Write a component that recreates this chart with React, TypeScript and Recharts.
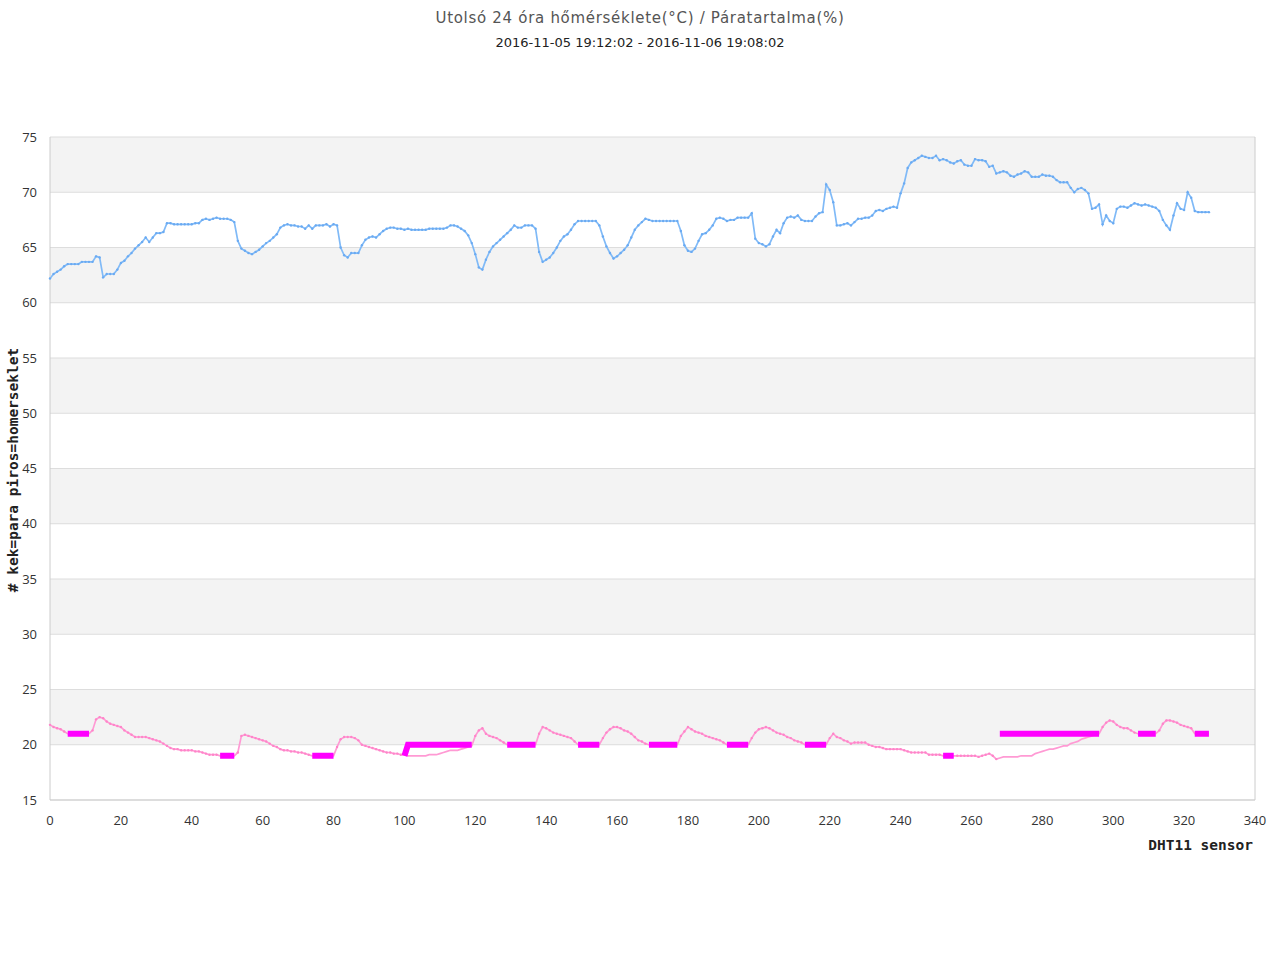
import React from 'react';
import { LineChart, Line, XAxis, YAxis, CartesianGrid, ReferenceLine } from 'recharts';

const _ = null;

// Humidity (blue, "kek=para")
const humidity = [
  62.2, 62.6, 62.8, 63.0, 63.3, 63.5, 63.5, 63.5, 63.5, 63.7,
  63.7, 63.7, 63.7, 64.2, 64.1, 62.3, 62.6, 62.6, 62.6, 63.0,
  63.6, 63.8, 64.2, 64.5, 64.9, 65.2, 65.5, 65.9, 65.5, 65.9,
  66.3, 66.3, 66.4, 67.2, 67.2, 67.1, 67.1, 67.1, 67.1, 67.1,
  67.1, 67.2, 67.2, 67.5, 67.6, 67.5, 67.6, 67.7, 67.6, 67.6,
  67.6, 67.5, 67.3, 65.6, 64.9, 64.7, 64.5, 64.4, 64.6, 64.8,
  65.1, 65.4, 65.6, 65.9, 66.2, 66.8, 67.0, 67.1, 67.0, 67.0,
  66.9, 66.9, 66.7, 67.0, 66.7, 67.0, 67.0, 67.0, 67.1, 66.9,
  67.1, 67.0, 65.0, 64.3, 64.1, 64.5, 64.5, 64.5, 65.2, 65.7,
  65.9, 66.0, 65.9, 66.2, 66.5, 66.7, 66.8, 66.8, 66.7, 66.7,
  66.6, 66.7, 66.6, 66.6, 66.6, 66.6, 66.6, 66.7, 66.7, 66.7,
  66.7, 66.7, 66.8, 67.0, 67.0, 66.9, 66.7, 66.5, 66.1, 65.4,
  64.4, 63.2, 63.0, 63.9, 64.6, 65.1, 65.4, 65.7, 66.0, 66.3,
  66.6, 67.0, 66.8, 66.8, 67.0, 67.0, 67.0, 66.7, 64.6, 63.7,
  63.9, 64.1, 64.5, 65.0, 65.6, 66.0, 66.2, 66.6, 67.1, 67.4,
  67.4, 67.4, 67.4, 67.4, 67.4, 67.0, 66.0, 65.1, 64.5, 64.0,
  64.2, 64.5, 64.8, 65.2, 65.9, 66.6, 67.0, 67.3, 67.6, 67.5,
  67.4, 67.4, 67.4, 67.4, 67.4, 67.4, 67.4, 67.4, 66.5, 65.2,
  64.7, 64.6, 64.9, 65.6, 66.2, 66.3, 66.6, 67.0, 67.6, 67.7,
  67.6, 67.4, 67.5, 67.5, 67.7, 67.7, 67.7, 67.7, 68.1, 65.8,
  65.4, 65.3, 65.1, 65.3, 66.0, 66.6, 66.3, 67.2, 67.7, 67.8,
  67.7, 67.9, 67.5, 67.4, 67.4, 67.4, 67.8, 68.1, 68.2, 70.7,
  70.2, 69.1, 67.0, 67.0, 67.1, 67.2, 67.0, 67.3, 67.6, 67.6,
  67.7, 67.7, 67.9, 68.3, 68.4, 68.3, 68.5, 68.6, 68.7, 68.6,
  69.9, 70.8, 72.2, 72.7, 72.9, 73.1, 73.3, 73.2, 73.1, 73.1,
  73.3, 72.9, 73.0, 72.9, 72.7, 72.6, 72.8, 72.9, 72.5, 72.4,
  72.4, 73.0, 72.9, 72.9, 72.8, 72.3, 72.4, 71.7, 71.8, 71.9,
  71.8, 71.5, 71.4, 71.6, 71.7, 71.9, 71.8, 71.4, 71.4, 71.4,
  71.6, 71.5, 71.5, 71.4, 71.1, 70.9, 70.9, 70.9, 70.4, 70.0,
  70.3, 70.4, 70.2, 69.9, 68.5, 68.6, 68.9, 67.1, 67.9, 67.4,
  67.2, 68.5, 68.7, 68.7, 68.6, 68.8, 69.0, 68.9, 68.8, 68.9,
  68.8, 68.7, 68.6, 68.3, 67.5, 67.0, 66.6, 67.9, 69.0, 68.5,
  68.4, 70.0, 69.5, 68.3, 68.2, 68.2, 68.2, 68.2,
];

// Temperature (pink, "piros=homerseklet")
const temperature = [
  21.8, 21.6, 21.5, 21.4, 21.2, 21.0, 21.0, 21.0, 21.0, 21.0,
  21.0, 21.0, 21.3, 22.3, 22.5, 22.4, 22.1, 21.9, 21.8, 21.7,
  21.6, 21.3, 21.1, 20.9, 20.7, 20.7, 20.7, 20.7, 20.6, 20.5,
  20.4, 20.3, 20.1, 19.9, 19.7, 19.6, 19.6, 19.5, 19.5, 19.5,
  19.5, 19.4, 19.4, 19.3, 19.2, 19.1, 19.1, 19.1, 19.0, 19.0,
  19.0, 19.0, 19.0, 19.3, 20.8, 20.9, 20.8, 20.7, 20.6, 20.5,
  20.4, 20.3, 20.1, 19.9, 19.8, 19.6, 19.5, 19.5, 19.4, 19.4,
  19.3, 19.3, 19.2, 19.1, 19.0, 19.0, 19.0, 19.0, 19.0, 19.0,
  19.0, 19.8, 20.5, 20.7, 20.7, 20.7, 20.6, 20.4, 20.0, 19.9,
  19.8, 19.7, 19.6, 19.5, 19.4, 19.3, 19.3, 19.2, 19.2, 19.1,
  19.1, 19.0, 19.0, 19.0, 19.0, 19.0, 19.0, 19.1, 19.1, 19.1,
  19.2, 19.3, 19.4, 19.5, 19.5, 19.5, 19.6, 19.7, 19.8, 19.9,
  20.8, 21.3, 21.5, 21.0, 20.8, 20.7, 20.6, 20.4, 20.2, 20.0,
  20.0, 20.0, 20.0, 20.0, 20.0, 20.0, 20.0, 20.0, 21.0, 21.6,
  21.5, 21.3, 21.1, 21.0, 20.9, 20.8, 20.7, 20.6, 20.3, 20.0,
  20.0, 20.0, 20.0, 20.0, 20.0, 20.0, 20.6, 21.1, 21.4, 21.6,
  21.6, 21.5, 21.3, 21.2, 21.0, 20.7, 20.4, 20.3, 20.1, 20.0,
  20.0, 20.0, 20.0, 20.0, 20.0, 20.0, 20.0, 20.0, 20.8, 21.2,
  21.6, 21.4, 21.2, 21.1, 21.0, 20.8, 20.7, 20.6, 20.5, 20.4,
  20.2, 20.0, 20.0, 20.0, 20.0, 20.0, 20.0, 20.0, 20.6, 21.1,
  21.4, 21.5, 21.6, 21.5, 21.3, 21.1, 21.0, 20.9, 20.7, 20.6,
  20.4, 20.3, 20.2, 20.0, 20.0, 20.0, 20.0, 20.0, 20.0, 20.0,
  20.6, 21.0, 20.7, 20.6, 20.4, 20.3, 20.1, 20.2, 20.2, 20.2,
  20.2, 20.0, 19.9, 19.8, 19.8, 19.7, 19.6, 19.6, 19.6, 19.6,
  19.6, 19.5, 19.4, 19.3, 19.3, 19.3, 19.3, 19.3, 19.1, 19.1,
  19.1, 19.1, 19.0, 19.0, 19.0, 19.0, 19.0, 19.0, 19.0, 19.0,
  19.0, 19.0, 18.9, 19.0, 19.1, 19.2, 19.0, 18.7, 18.8, 18.9,
  18.9, 18.9, 18.9, 18.9, 19.0, 19.0, 19.0, 19.0, 19.2, 19.3,
  19.4, 19.5, 19.6, 19.6, 19.7, 19.8, 19.9, 19.9, 20.1, 20.2,
  20.3, 20.5, 20.6, 20.7, 20.8, 20.9, 21.0, 21.6, 22.0, 22.2,
  22.1, 21.8, 21.6, 21.5, 21.5, 21.3, 21.1, 21.0, 21.0, 21.0,
  21.0, 21.0, 21.0, 21.3, 21.9, 22.2, 22.2, 22.1, 22.0, 21.8,
  21.7, 21.6, 21.5, 21.0, 21.0, 21.0, 21.0, 21.0,
];

// Magenta thick marker segments
const marker = [
  _, _, _, _, _, 21, 21, 21, 21, 21,
  21, 21, _, _, _, _, _, _, _, _,
  _, _, _, _, _, _, _, _, _, _,
  _, _, _, _, _, _, _, _, _, _,
  _, _, _, _, _, _, _, _, 19, 19,
  19, 19, 19, _, _, _, _, _, _, _,
  _, _, _, _, _, _, _, _, _, _,
  _, _, _, _, 19, 19, 19, 19, 19, 19,
  19, _, _, _, _, _, _, _, _, _,
  _, _, _, _, _, _, _, _, _, _,
  19, 20, 20, 20, 20, 20, 20, 20, 20, 20,
  20, 20, 20, 20, 20, 20, 20, 20, 20, 20,
  _, _, _, _, _, _, _, _, _, 20,
  20, 20, 20, 20, 20, 20, 20, 20, _, _,
  _, _, _, _, _, _, _, _, _, 20,
  20, 20, 20, 20, 20, 20, _, _, _, _,
  _, _, _, _, _, _, _, _, _, 20,
  20, 20, 20, 20, 20, 20, 20, 20, _, _,
  _, _, _, _, _, _, _, _, _, _,
  _, 20, 20, 20, 20, 20, 20, 20, _, _,
  _, _, _, _, _, _, _, _, _, _,
  _, _, _, 20, 20, 20, 20, 20, 20, 20,
  _, _, _, _, _, _, _, _, _, _,
  _, _, _, _, _, _, _, _, _, _,
  _, _, _, _, _, _, _, _, _, _,
  _, _, 19, 19, 19, 19, _, _, _, _,
  _, _, _, _, _, _, _, _, 21, 21,
  21, 21, 21, 21, 21, 21, 21, 21, 21, 21,
  21, 21, 21, 21, 21, 21, 21, 21, 21, 21,
  21, 21, 21, 21, 21, 21, 21, _, _, _,
  _, _, _, _, _, _, _, 21, 21, 21,
  21, 21, 21, _, _, _, _, _, _, _,
  _, _, _, 21, 21, 21, 21, 21,
];

const xTicks = [0, 20, 40, 60, 80, 100, 120, 140, 160, 180, 200, 220, 240, 260, 280, 300, 320, 340];
const yTicks = [15, 20, 25, 30, 35, 40, 45, 50, 55, 60, 65, 70, 75];

const titleText = 'Utolsó 24 óra hőmérséklete(°C) / Páratartalma(%)';
const subtitleText = '2016-11-05 19:12:02 - 2016-11-06 19:08:02';
const yLabelText = '# kek=para piros=homerseklet';
const xLabelText = 'DHT11 sensor';

const data = humidity.map((h, i) => ({ i, h, t: temperature[i], m: marker[i] }));

const tickStyle = { fontFamily: '"Open Sans", sans-serif', fontSize: 13, fill: '#333' };

const makeDot = (fill: string, hideUnderMarker: boolean) => (props: any) => {
  const { cx, cy, index } = props;
  if (cx == null || cy == null) return <g key={`d-${index}`} />;
  if (hideUnderMarker && marker[index] != null) return <g key={`d-${index}`} />;
  return <circle key={`d-${index}`} cx={cx} cy={cy} r={1.2} fill={fill} stroke="none" />;
};

export default function App() {
  return (
    <div style={{ position: 'absolute', left: 0, top: 0, width: 1280, height: 960, background: '#fff' }}>
      <LineChart width={1280} height={960} data={data} margin={{ top: 137, right: 25, bottom: 0, left: 0 }}>
        <CartesianGrid vertical={false} stroke="#dddddd" horizontalFill={['#f3f3f3', '#ffffff']} fillOpacity={1} />
        <XAxis
          dataKey="i"
          type="number"
          domain={[0, 340]}
          ticks={xTicks}
          height={160}
          tickLine={false}
          tickSize={8}
          tickMargin={8}
          axisLine={{ stroke: '#cccccc' }}
          tick={tickStyle}
          interval={0}
        />
        <YAxis
          type="number"
          domain={[15, 75]}
          ticks={yTicks}
          width={50}
          tickLine={false}
          tickSize={5}
          tickMargin={8}
          axisLine={{ stroke: '#cccccc' }}
          tick={tickStyle}
          interval={0}
        />
        <ReferenceLine x={340} stroke="#cccccc" />
        <Line
          dataKey="h"
          type="linear"
          stroke="#80baf7"
          strokeWidth={1.7}
          dot={makeDot('#6aaaf2', false)}
          isAnimationActive={false}
        />
        <Line
          dataKey="t"
          type="linear"
          stroke="#ff9ad4"
          strokeWidth={1.7}
          dot={makeDot('#ff84c9', true)}
          isAnimationActive={false}
        />
        <Line
          dataKey="m"
          type="linear"
          stroke="#ff00ff"
          strokeWidth={6}
          dot={false}
          connectNulls={false}
          isAnimationActive={false}
        />
      </LineChart>
      <svg width={1280} height={960} style={{ position: 'absolute', left: 0, top: 0, pointerEvents: 'none' }}>
        <text x={640} y={23} textAnchor="middle" fontFamily='"DejaVu Sans", sans-serif' fontSize={15} letterSpacing={0.7} fill="#555">
          {titleText}
        </text>
        <text x={640} y={47} textAnchor="middle" fontFamily='"DejaVu Sans", sans-serif' fontSize={13} fill="#222">
          {subtitleText}
        </text>
        <text
          x={13}
          y={470}
          textAnchor="middle"
          dominantBaseline="central"
          transform="rotate(-90, 13, 470)"
          fontFamily='"DejaVu Sans Mono", monospace'
          fontWeight="bold"
          fontSize={14.5}
          fill="#222"
        >
          {yLabelText}
        </text>
        <text
          x={1253}
          y={850}
          textAnchor="end"
          fontFamily='"DejaVu Sans Mono", monospace'
          fontWeight="bold"
          fontSize={14.5}
          fill="#222"
        >
          {xLabelText}
        </text>
      </svg>
    </div>
  );
}
